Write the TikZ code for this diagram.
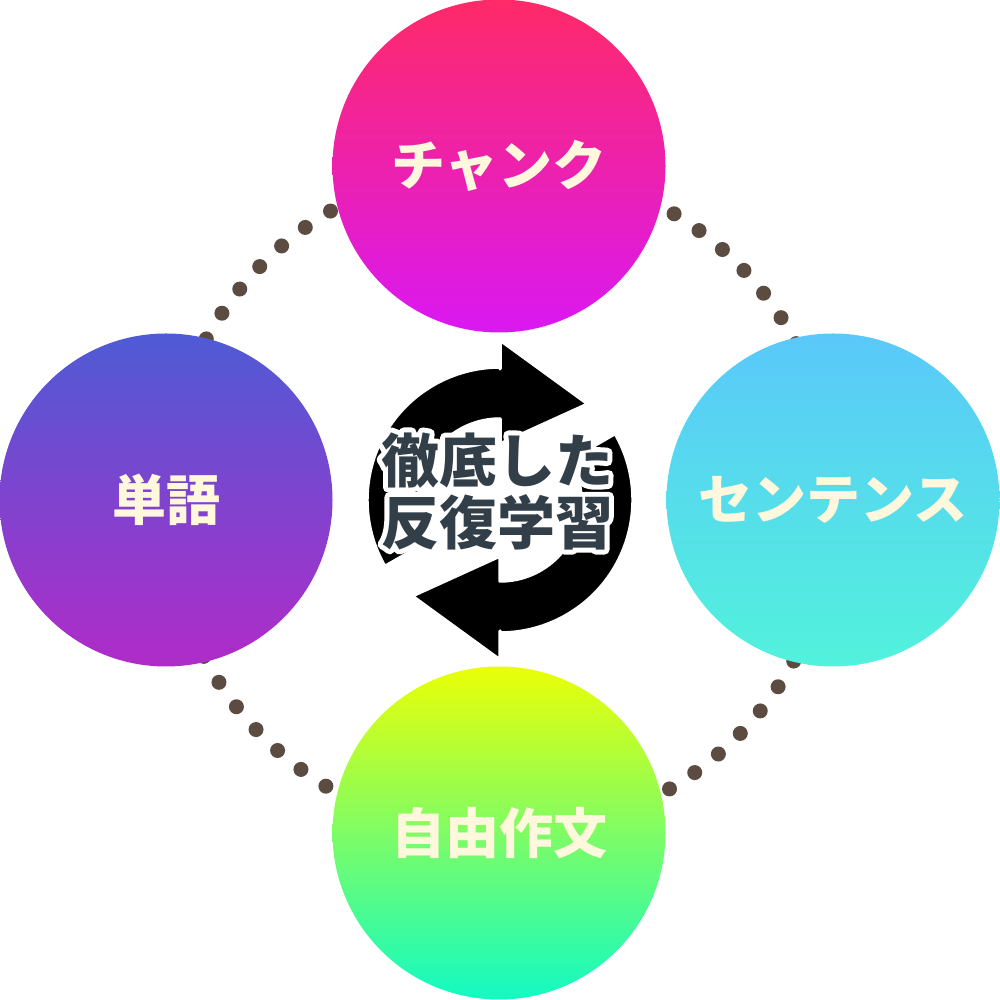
\documentclass[tikz,border=0pt]{standalone}
\usepackage{fontspec}
\newfontfamily\heavy{Noto Sans CJK JP Black}
\newcommand\halotext[1]{\leavevmode\rlap{\special{pdf:literal direct 1 Tr 10 w 1 j 1 1 1 RG}#1\special{pdf:literal direct 0 Tr}}#1}
\definecolor{dotc}{HTML}{5B4B40}
\definecolor{cream}{HTML}{FFF8DC}
\definecolor{slate}{HTML}{323E48}
\definecolor{c1t}{HTML}{FF2A68}
\definecolor{c1b}{HTML}{DA18F2}
\definecolor{c2t}{HTML}{4F5BD5}
\definecolor{c2b}{HTML}{B02BC8}
\definecolor{c3t}{HTML}{5AC8FA}
\definecolor{c3b}{HTML}{52F2DC}
\definecolor{c4t}{HTML}{EAFF06}
\definecolor{c4b}{HTML}{12FAC4}
\tikzset{
  bubble/.style={circle, inner sep=0pt, minimum size=333pt, text=cream,
    font=\heavy\fontsize{54}{60}\selectfont},
  cyc/.style={fill=black, draw=white, line width=3.5pt, line join=round},
  dotfill/.style={fill=dotc}
}
\begin{document}
\begin{tikzpicture}[x=1pt,y=1pt]
\useasboundingbox (0,0) rectangle (1000,1000);
\coordinate (O) at (500,500);
% dotted ring
\begin{scope}[shift={(500,500)}]
\foreach \i in {0,...,69}
  \fill[dotfill] ({120.4+\i*5.142857}:335) circle[radius=7.5];
\end{scope}
% circles
\node[bubble, top color=c1t, bottom color=c1b] (chunk) at (499,834) {チャンク};
\node[bubble, top color=c2t, bottom color=c2b] (word) at (166,500) {単語};
\node[bubble, top color=c3t, bottom color=c3b] (sent) at (833,500) {センテンス};
\node[bubble, top color=c4t, bottom color=c4b] (essay) at (499,167) {自由作文};
% cycle arrows
\begin{scope}[shift={(500,500)}]
\path[cyc] (90:131) -- (0,160) -- (88,96) -- (0,56) -- (90:81)
  arc[start angle=90, end angle=210, radius=81] -- (210:133)
  arc[start angle=210, end angle=90, radius=133] -- cycle;
\begin{scope}[rotate=180]
\path[cyc] (90:131) -- (0,160) -- (88,96) -- (0,56) -- (90:81)
  arc[start angle=90, end angle=210, radius=81] -- (210:133)
  arc[start angle=210, end angle=90, radius=133] -- cycle;
\end{scope}
\end{scope}
% centre text
\node[align=center, text=slate, inner sep=0pt, font=\heavy\fontsize{58}{62}\selectfont] (core) at (497,509)
  {\halotext{徹底した}\\\halotext{反復学習}};
\end{tikzpicture}
\end{document}
